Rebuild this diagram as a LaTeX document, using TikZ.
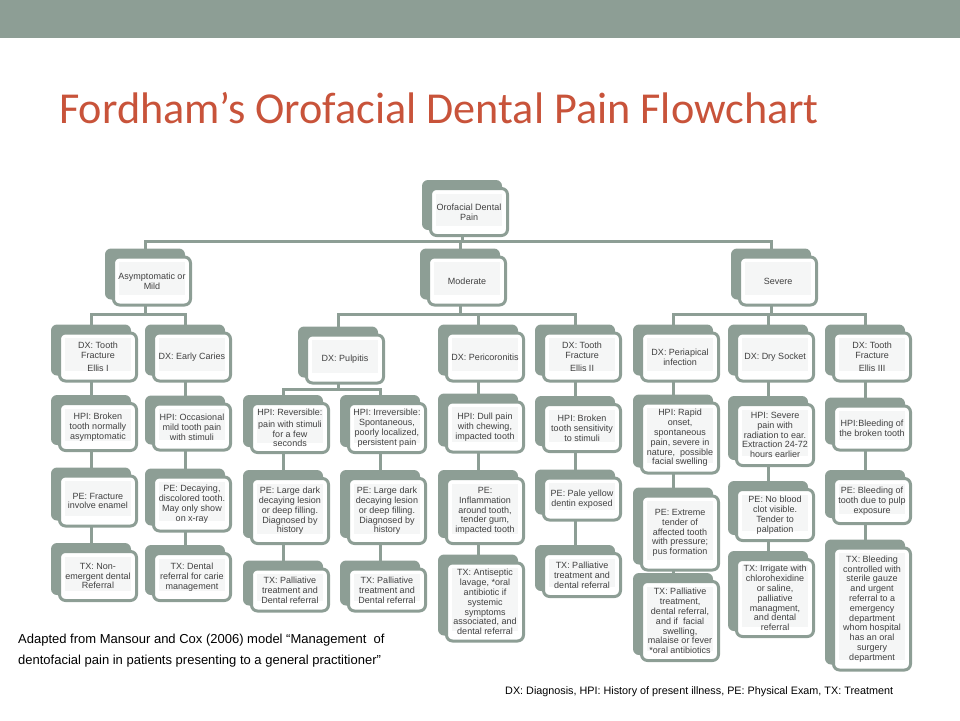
\documentclass[tikz,border=0pt]{standalone}
\usepackage{fontspec}
\setmainfont{Liberation Sans}
\newfontfamily\titlefont{Carlito}
\usetikzlibrary{calc, backgrounds}

\definecolor{sage}{RGB}{141,158,149}
\definecolor{titlered}{RGB}{200,83,58}
\definecolor{boxgray}{RGB}{245,246,246}
\definecolor{textgray}{RGB}{64,64,64}

\tikzset{
  % card behind each step
  backbox/.style={
    fill=sage, rounded corners=6pt,
    inner sep=0pt, outer sep=0pt,
    minimum width=80pt
  },
  % white card in front
  frontbox/.style={
    draw=sage, line width=3pt, fill=white, rounded corners=6pt,
    inner sep=0pt, outer sep=0pt,
    minimum width=77pt
  },
  innerfill/.style={fill=boxgray},
  boxtext/.style={
    align=center, text=textgray, inner sep=0pt,
    font=\fontsize{9}{9.8}\selectfont
  },
  % tree connector
  conn/.style={draw=sage, line width=3pt},
}
\newcommand{\stackbox}[4]{%
  \node[backbox, minimum height=#3] (#1) at ($(#2)+(-7,-7)$) {};        % back card
  \node[frontbox, minimum height={#3-3}] (#1F) at (#2) {};              % front card
  \fill[innerfill] ($(#1F.north west)+(5,5)$) rectangle ($(#1F.south east)+(-6,-10)$);
  \node[boxtext] at (#1F) {#4};
}

\begin{document}
\begin{tikzpicture}[x=1pt, y=-1pt]
  \useasboundingbox (0,0) rectangle (960,720);

  %% ── Header ──
  \fill[sage] (0,0) rectangle (960,38);
  \node[anchor=base west, inner sep=0pt, text=titlered,
        font=\titlefont\fontsize{44.2}{50}\selectfont] (title) at (59,123)
        {Fordham’s Orofacial Dental Pain Flowchart};

  %% ── Top levels ──
  \stackbox{root}{469,212}{50}{Orofacial Dental\\Pain}
  \stackbox{mild}{152,281}{51}{Asymptomatic or\\Mild}
  \stackbox{moderate}{467,281}{51}{Moderate}
  \stackbox{severe}{778,281}{51}{Severe}

  %% ── Diagnosis ──
  \stackbox{dxFracI}{98,357}{51}{DX: Tooth\\Fracture\\[3pt]Ellis I}
  \stackbox{dxCaries}{192,357}{51}{DX: Early Caries}
  \stackbox{dxPulp}{345,359}{51}{DX: Pulpitis}
  \stackbox{dxPeri}{485,357}{51}{DX: Pericoronitis}
  \stackbox{dxFracII}{582,357}{51}{DX: Tooth\\Fracture\\[3pt]Ellis II}
  \stackbox{dxApical}{680,357}{51}{DX: Periapical\\infection}
  \stackbox{dxSocket}{775,357}{51}{DX: Dry Socket}
  \stackbox{dxFracIII}{872,357}{51}{DX: Tooth\\Fracture\\[3pt]Ellis III}

  %% ── History ──
  \stackbox{hpiFracI}{98,427}{50}{HPI: Broken\\tooth normally\\asymptomatic}
  \stackbox{hpiCaries}{192,427}{49}{HPI: Occasional\\mild tooth pain\\with stimuli}
  \stackbox{hpiRev}{290,428}{52}{HPI: Reversible:\\[2pt]pain with stimuli\\for a few\\seconds}
  \stackbox{hpiIrrev}{387,428}{52}{HPI: Irreversible:\\Spontaneous,\\poorly localized,\\persistent pain}
  \stackbox{hpiPeri}{485,427}{53}{HPI: Dull pain\\with chewing,\\impacted tooth}
  \stackbox{hpiFracII}{582,428}{50}{HPI: Broken\\tooth sensitivity\\to stimuli}
  \stackbox{hpiApical}{680,438}{73}{HPI: Rapid\\onset,\\spontaneous\\pain, severe in\\nature,~ possible\\facial swelling}
  \stackbox{hpiSocket}{775,435}{64}{HPI: Severe\\pain with\\radiation to ear.\\Extraction 24-72\\hours earlier}
  \stackbox{hpiFracIII}{872,428}{47}{HPI:Bleeding of\\the broken tooth}

  %% ── Physical exam ──
  \stackbox{peFracI}{98,501}{53}{PE: Fracture\\involve enamel}
  \stackbox{peCaries}{192,504}{57}{PE: Decaying,\\discolored tooth.\\May only show\\on x-ray}
  \stackbox{peRev}{290,511}{68}{PE: Large dark\\decaying lesion\\or deep filling.\\Diagnosed by\\history}
  \stackbox{peIrrev}{387,511}{68}{PE: Large dark\\decaying lesion\\or deep filling.\\Diagnosed by\\history}
  \stackbox{pePeri}{485,511}{68}{PE:\\Inflammation\\around tooth,\\tender gum,\\impacted tooth}
  \stackbox{peFracII}{582,499}{45}{PE: Pale yellow\\dentin exposed}
  \stackbox{peApical}{680,533}{77}{PE: Extreme\\tender of\\affected tooth\\with pressure;\\pus formation}
  \stackbox{peSocket}{775,515}{54}{PE: No blood\\clot visible.\\Tender to\\palpation}
  \stackbox{peFracIII}{872,501}{48}{PE: Bleeding of\\tooth due to pulp\\exposure}

  %% ── Treatment ──
  \stackbox{txFracI}{98,576}{52}{TX: Non-\\emergent dental\\Referral}
  \stackbox{txCaries}{192,577}{50}{TX: Dental\\referral for carie\\management}
  \stackbox{txRev}{290,590}{45}{TX: Palliative\\treatment and\\Dental referral}
  \stackbox{txIrrev}{387,590}{45}{TX: Palliative\\treatment and\\Dental referral}
  \stackbox{txPeri}{485,602}{81}{TX: Antiseptic\\lavage, *oral\\antibiotic if\\systemic\\symptoms\\associated, and\\dental referral}
  \stackbox{txFracII}{582,575}{46}{TX: Palliative\\treatment and\\dental referral}
  \stackbox{txApical}{680,621}{82}{TX: Palliative\\treatment,\\dental referral,\\and if~ facial\\swelling,\\malaise or fever\\*oral antibiotics}
  \stackbox{txSocket}{775,598}{80}{TX: Irrigate with\\chlorohexidine\\or saline,\\palliative\\managment,\\and dental\\referral}
  \stackbox{txFracIII}{872,609}{125}{TX: Bleeding\\controlled with\\sterile gauze\\and urgent\\referral to a\\emergency\\department\\whom hospital\\has an oral\\surgery\\department}

  %% ── Connectors ──
  \begin{scope}[on background layer]
    \draw[conn] (root.south) -- ++(0,11) -| (mild.north);
    \draw[conn] (root.south) -- ++(0,11) -| (moderate.north);
    \draw[conn] (root.south) -- ++(0,11) -| (severe.north);

    \draw[conn] (mild.south) -- ++(0,15) -| (dxFracI.north);
    \draw[conn] (mild.south) -- ++(0,15) -| (dxCaries.north);
    \draw[conn] (moderate.south) -- ++(0,15) -| (dxPulp.north);
    \draw[conn] (moderate.south) -- ++(0,15) -| (dxPeri.north);
    \draw[conn] (moderate.south) -- ++(0,15) -| (dxFracII.north);
    \draw[conn] (severe.south) -- ++(0,15) -| (dxApical.north);
    \draw[conn] (severe.south) -- ++(0,15) -| (dxSocket.north);
    \draw[conn] (severe.south) -- ++(0,15) -| (dxFracIII.north);

    \draw[conn] (dxPulp.south) -- ++(0,12) -| (hpiRev.north);
    \draw[conn] (dxPulp.south) -- ++(0,12) -| (hpiIrrev.north);

    % columns DX -> HPI -> PE -> TX
    \draw[conn] (dxFracI.south) -- (txFracI.north);
    \draw[conn] (dxCaries.south) -- (txCaries.north);
    \draw[conn] (hpiRev.south) -- (txRev.north);
    \draw[conn] (hpiIrrev.south) -- (txIrrev.north);
    \draw[conn] (dxPeri.south) -- (txPeri.north);
    \draw[conn] (dxFracII.south) -- (txFracII.north);
    \draw[conn] (dxApical.south) -- (txApical.north);
    \draw[conn] (dxSocket.south) -- (txSocket.north);
    \draw[conn] (dxFracIII.south) -- (txFracIII.north);
  \end{scope}

  %% ── Notes ──
  \node[anchor=north west, align=left, inner sep=0pt,
        font=\fontsize{13}{20.5}\selectfont] (source) at (18,634)
        {Adapted from Mansour and Cox (2006) model “Management~ of\\
         dentofacial pain in patients presenting to a general practitioner”};
  \node[anchor=base west, inner sep=0pt,
        font=\fontsize{10.8}{13}\selectfont] (legend) at (505,694)
        {DX: Diagnosis, HPI: History of present illness, PE: Physical Exam, TX: Treatment};

\end{tikzpicture}
\end{document}
